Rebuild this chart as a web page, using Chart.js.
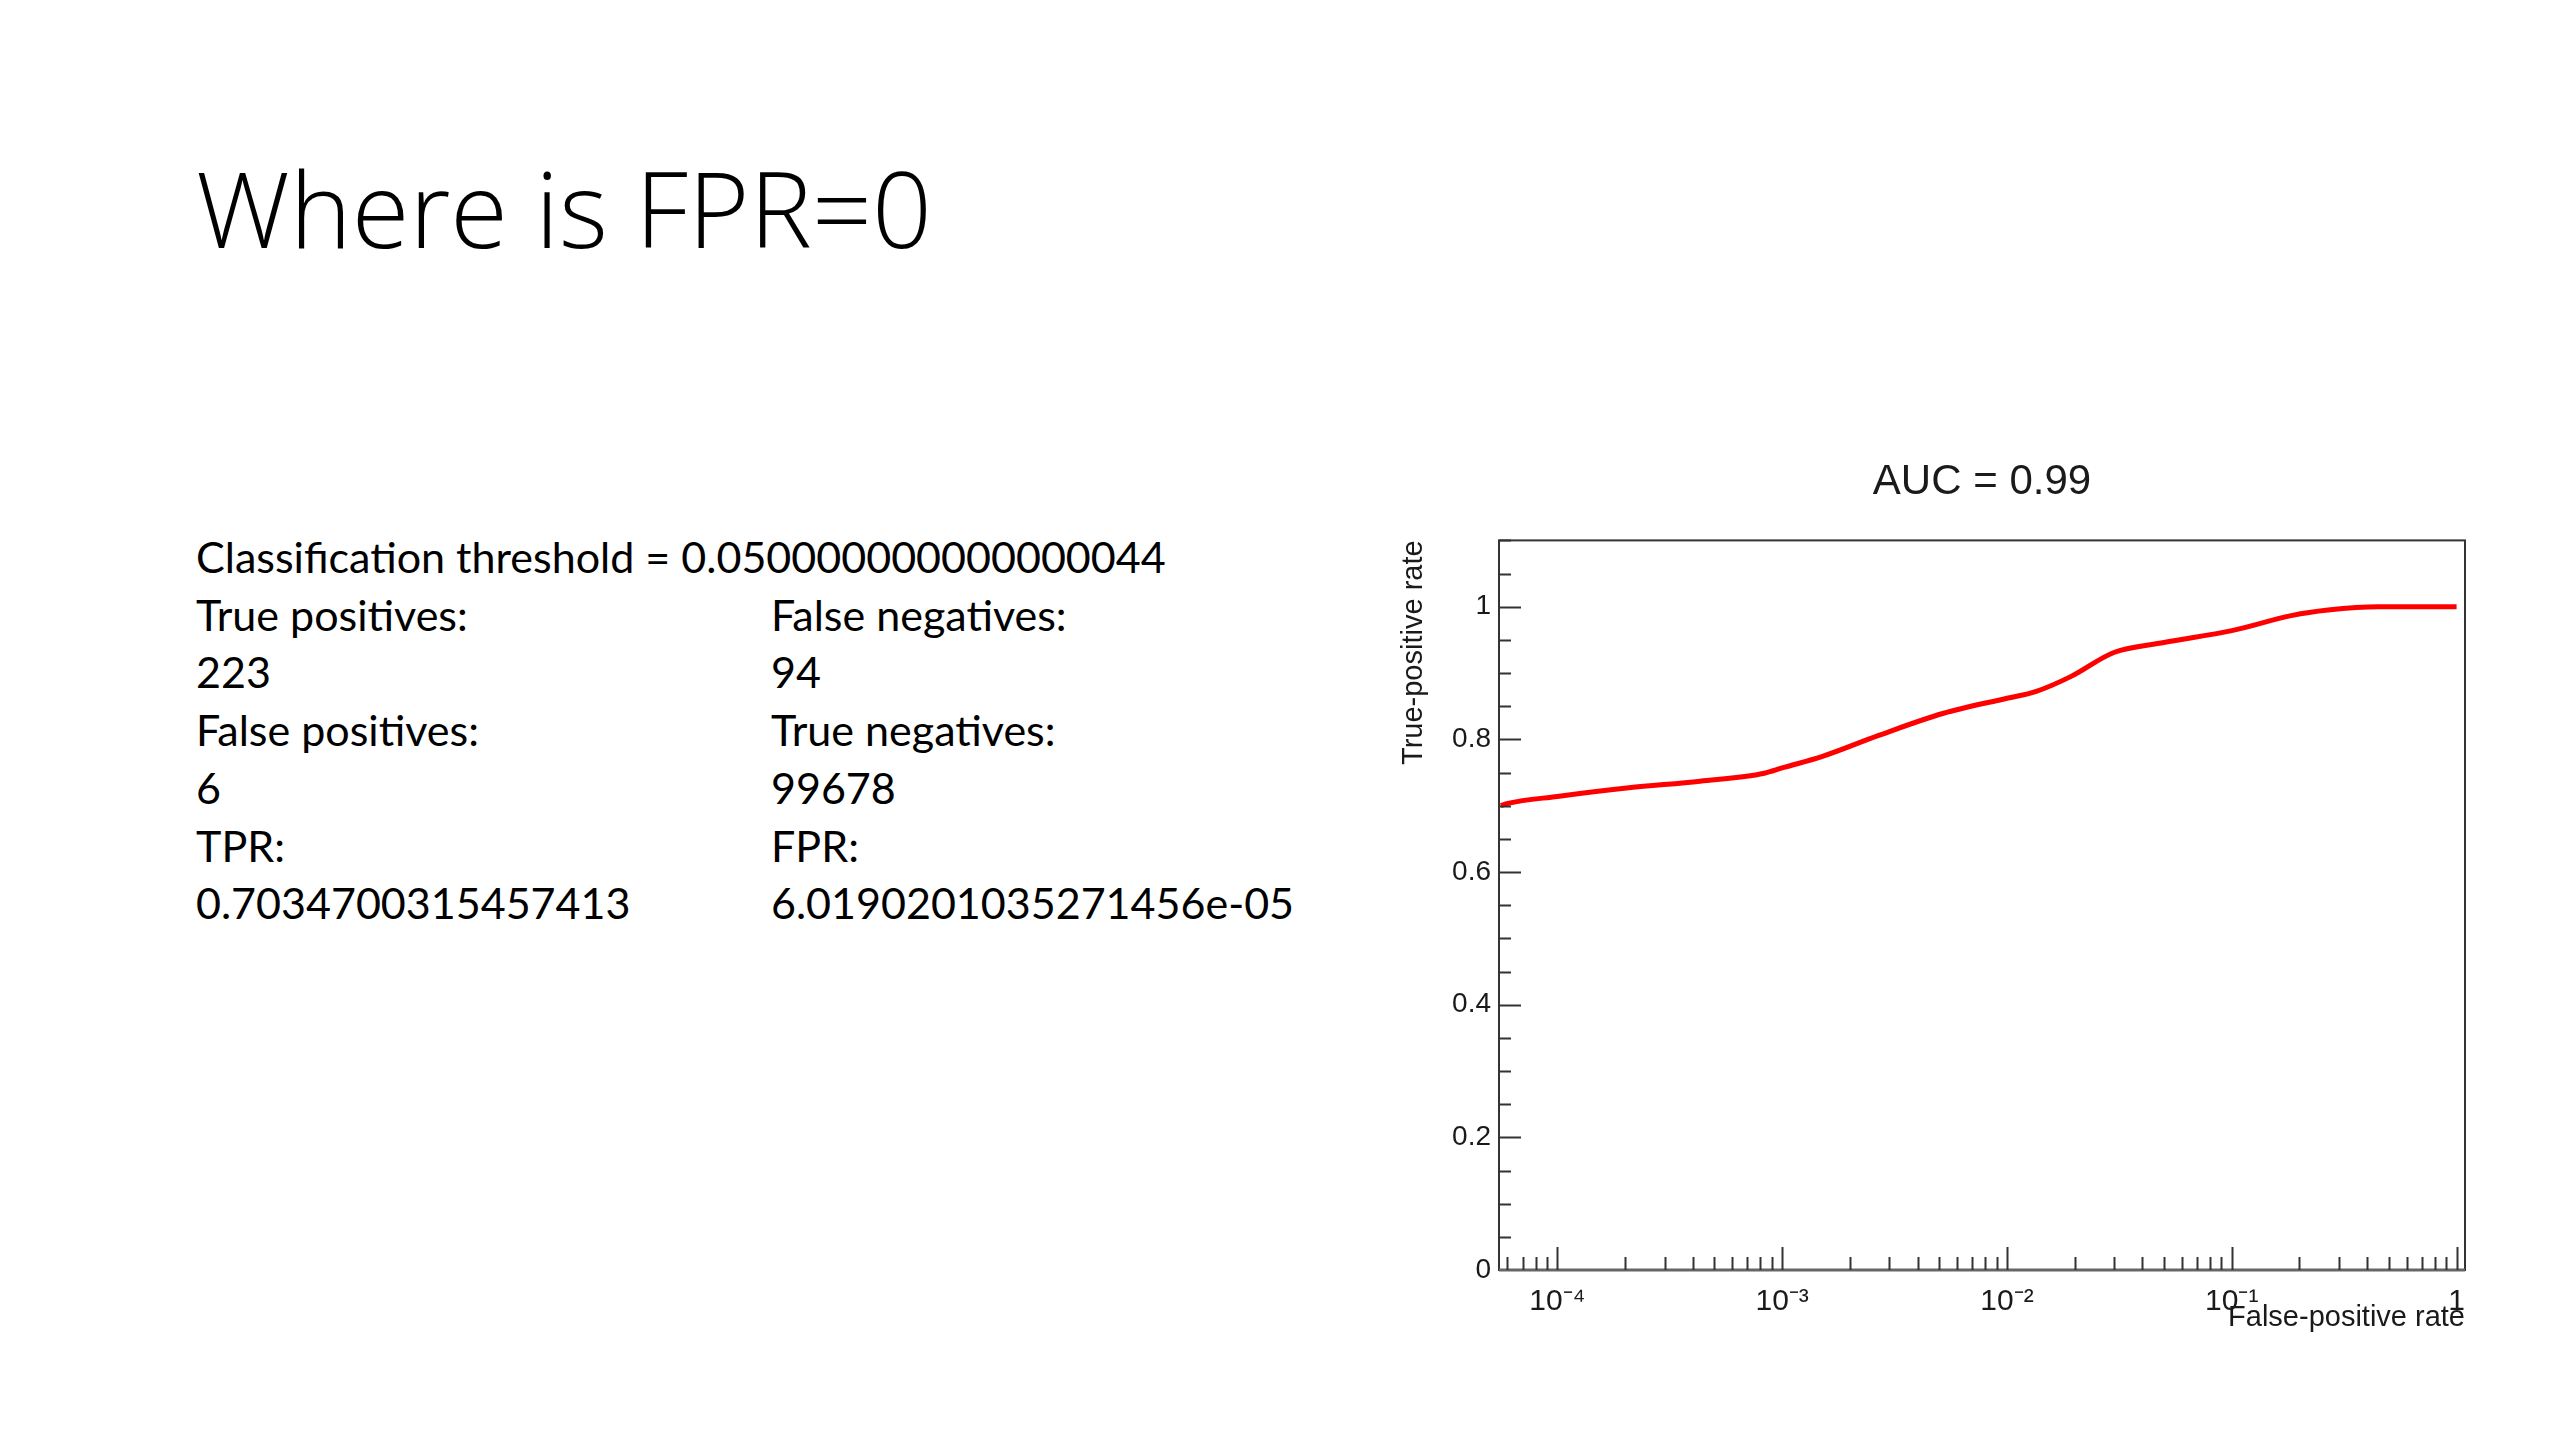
<!DOCTYPE html>
<html>
<head>
<meta charset="utf-8">
<title>Where is FPR=0</title>
<script src="https://cdn.jsdelivr.net/npm/chart.js@4.4.1/dist/chart.umd.min.js"></script>
<style>
  html, body { margin: 0; padding: 0; background: #fff; }
  body { width: 2560px; height: 1440px; position: relative; overflow: hidden; }
  #title { position: absolute; left: 196px; top: 155px; font-family: 'Open Sans', sans-serif; font-weight: 300;
           font-size: 110px; line-height: 1; color: #000; white-space: nowrap; }
  .col { position: absolute; font-family: Lato, sans-serif; font-size: 42px; line-height: 57.7px; color: #000; white-space: nowrap; }
  #colLeft { left: 196px; top: 528px; }
  #colRight { left: 771px; top: 585.7px; }
  #box { position: absolute; left: 1380px; top: 440px; width: 1120px; height: 900px; }
</style>
</head>
<body>
<div id="title"><span>Where is FPR=0</span></div>
<div class="col" id="colLeft"></div>
<div class="col" id="colRight"></div>
<div id="box"><canvas id="roc"></canvas></div>

<script>
// slide text
var thresholdLine = "Classification threshold = 0.050000000000000044";
var leftLines = ["True positives:", "223", "False positives:", "6", "TPR:", "0.7034700315457413"];
var rightLines = ["False negatives:", "94", "True negatives:", "99678", "FPR:", "6.0190201035271456e-05"];

// ROC curve
var fpr = [5.6e-5, 6.02e-5, 1e-4, 2.08e-4, 4.31e-4, 8.34e-4, 1e-3, 1.5e-3, 2.69e-3, 5.18e-3,
           1e-2, 1.34e-2, 1.93e-2, 2.99e-2, 4.99e-2, 1e-1, 1.86e-1, 2.68e-1, 4.48e-1, 1];
var tpr = [0.700, 0.7035, 0.714, 0.727, 0.737, 0.749, 0.757, 0.774, 0.806, 0.839,
           0.862, 0.872, 0.895, 0.931, 0.946, 0.964, 0.987, 0.995, 1.0, 1.0];

// axes
var xMajorTicks = [1e-4, 1e-3, 1e-2, 1e-1, 1];
var xTickLabels = ["10\u207B\u2074", "10\u207B\u00B3", "10\u207B\u00B2", "10\u207B\u00B9", "1"];
var xMinorSteps = [2, 3, 4, 5, 6, 7, 8, 9];
var yMajorTicks = [0, 0.2, 0.4, 0.6, 0.8, 1];
var yTickLabels = ["0", "0.2", "0.4", "0.6", "0.8", "1"];

var X_MIN = 5.5e-5, X_MAX = 1.09;

function addLines(el, lines) {
  lines.forEach(function(t) {
    var d = document.createElement("div");
    d.textContent = t;
    el.appendChild(d);
  });
}
var colLeft = document.getElementById("colLeft");
var colRight = document.getElementById("colRight");
addLines(colLeft, [thresholdLine].concat(leftLines));
addLines(colRight, rightLines);

// match the slide's text widths
function fitWidth(el, inner, target) {
  var w = inner.getBoundingClientRect().width;
  var fs = parseFloat(getComputedStyle(el).fontSize);
  el.style.fontSize = (fs * target / w) + "px";
}
var span = document.createElement("span");
span.textContent = thresholdLine;
colLeft.firstChild.textContent = "";
colLeft.firstChild.appendChild(span);
fitWidth(colLeft, span, 970);
colRight.style.fontSize = colLeft.style.fontSize;
var titleEl = document.getElementById("title");
fitWidth(titleEl, titleEl.firstChild, 736);

// x ticks: 6..9e-5 then 1..9 per decade
var xTickValues = [];
[6e-5, 7e-5, 8e-5, 9e-5].forEach(function(v) { xTickValues.push(v); });
xMajorTicks.forEach(function(m, i) {
  xTickValues.push(m);
  if (i < xMajorTicks.length - 1) xMinorSteps.forEach(function(s) { xTickValues.push(+(m * s).toPrecision(6)); });
});

function isMajorX(v) {
  return xMajorTicks.some(function(m) { return Math.abs(v / m - 1) < 1e-6; });
}
function isMajorY(v) {
  return yMajorTicks.some(function(m) { return Math.abs(v - m) < 1e-6; });
}

var AXIS_COLOR = "#333";
var TEXT_COLOR = "#1a1a1a";

// ROOT style frame with ticks pointing inwards
var rootFrame = {
  id: "rootFrame",
  afterDraw: function(chart) {
    var ctx = chart.ctx, a = chart.chartArea;
    var xs = chart.scales.x, ys = chart.scales.y;
    ctx.save();
    ctx.strokeStyle = AXIS_COLOR;
    ctx.lineWidth = 2;
    ctx.strokeRect(a.left, a.top, a.right - a.left, a.bottom - a.top);
    // bottom axis is a little heavier in the original
    ctx.strokeStyle = "#666";
    ctx.lineWidth = 3;
    ctx.beginPath();
    ctx.moveTo(a.left, a.bottom);
    ctx.lineTo(a.right, a.bottom);
    ctx.stroke();
    ctx.strokeStyle = AXIS_COLOR;
    ctx.lineWidth = 2;
    ctx.beginPath();
    xs.ticks.forEach(function(t) {
      var px = Math.round(xs.getPixelForValue(t.value)) + 0.5;
      if (px < a.left || px > a.right) return;
      var len = isMajorX(t.value) ? 23 : 13;
      ctx.moveTo(px, a.bottom);
      ctx.lineTo(px, a.bottom - len);
    });
    ys.ticks.forEach(function(t) {
      var py = Math.round(ys.getPixelForValue(t.value)) + 0.5;
      if (py < a.top || py > a.bottom) return;
      var len = isMajorY(t.value) ? 22 : 12;
      ctx.moveTo(a.left, py);
      ctx.lineTo(a.left + len, py);
    });
    ctx.stroke();
    ctx.restore();
  }
};

new Chart(document.getElementById("roc"), {
  type: "line",
  data: {
    datasets: [{
      label: "ROC",
      data: fpr.map(function(v, i) { return { x: v, y: tpr[i] }; }),
      borderColor: "#ff0000",
      borderWidth: 5,
      pointRadius: 0,
      fill: false,
      cubicInterpolationMode: "monotone"
    }]
  },
  options: {
    responsive: true,
    maintainAspectRatio: false,
    animation: false,
    layout: { padding: { left: 0, right: 35, top: 0, bottom: 0 } },
    plugins: {
      legend: { display: false },
      tooltip: { enabled: false },
      title: {
        display: true,
        fullSize: false,
        text: "AUC = 0.99",
        color: TEXT_COLOR,
        font: { family: "Liberation Sans", size: 42, weight: "normal" },
        padding: { top: 17, bottom: 33 }
      }
    },
    scales: {
      x: {
        type: "logarithmic",
        min: X_MIN,
        max: X_MAX,
        afterBuildTicks: function(s) {
          s.ticks = xTickValues.map(function(v) { return { value: v, major: isMajorX(v) }; });
        },
        afterFit: function(s) { s.height = 70; },
        grid: { display: false, drawTicks: false },
        border: { display: false },
        ticks: {
          autoSkip: false,
          maxRotation: 0,
          padding: 14,
          color: TEXT_COLOR,
          font: { family: "Liberation Sans", size: 30 },
          callback: function(v) {
            var i = xMajorTicks.findIndex(function(m) { return Math.abs(v / m - 1) < 1e-6; });
            return i >= 0 ? xTickLabels[i] : "";
          }
        },
        title: {
          display: true,
          text: "False-positive rate",
          align: "end",
          color: TEXT_COLOR,
          font: { family: "Liberation Sans", size: 29 },
          padding: { top: 0, bottom: 5 }
        }
      },
      y: {
        min: 0,
        max: 1.1,
        afterFit: function(s) { s.width = 119; },
        grid: { display: false, drawTicks: false },
        border: { display: false },
        ticks: {
          stepSize: 0.05,
          autoSkip: false,
          padding: 8,
          color: TEXT_COLOR,
          font: { family: "Liberation Sans", size: 28 },
          callback: function(v) {
            var i = yMajorTicks.findIndex(function(m) { return Math.abs(v - m) < 1e-6; });
            return i >= 0 ? yTickLabels[i] : "";
          }
        },
        title: {
          display: true,
          text: "True-positive rate",
          align: "end",
          color: TEXT_COLOR,
          font: { family: "Liberation Sans", size: 29 },
          padding: { top: 17, bottom: 0 }
        }
      }
    }
  },
  plugins: [rootFrame]
});
</script>
</body>
</html>
